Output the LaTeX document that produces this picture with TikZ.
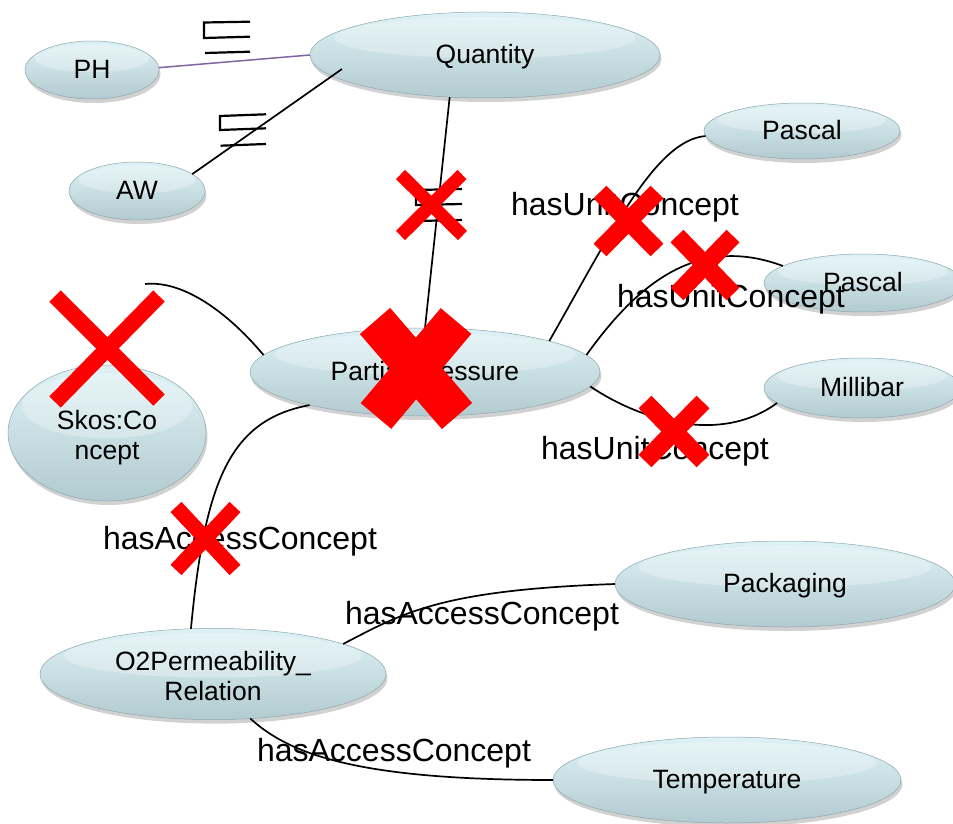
\documentclass[tikz,border=0pt]{standalone}
\usepackage{fontspec}
\setmainfont{Liberation Sans}
\usetikzlibrary{shapes.geometric,shadows,calc}

\definecolor{ellTop}{RGB}{222,242,246}
\definecolor{ellBot}{RGB}{178,203,208}
\definecolor{ellRim}{RGB}{140,168,175}
\definecolor{linkPurple}{RGB}{128,100,162}

% fixed-height struts so every concept text sits on the same baseline
\newcommand\ctop{\rule{0pt}{23pt}}
\newcommand\ctoptwo{\rule{0pt}{29pt}}
\newcommand\cbot{\rule[-6pt]{0pt}{6pt}}
\newcommand\ctext[1]{\ctop\cbot#1}

\begin{document}
\begin{tikzpicture}[x=1pt,y=-1pt,
  concept/.style 2 args={ellipse, draw=ellRim, line width=0.5pt,
    top color=ellTop, bottom color=ellBot,
    minimum width=#1, minimum height=#2, inner sep=0pt, outer sep=0pt,
    align=center, font=\fontsize{26.5}{29.5}\selectfont,
    drop shadow={shadow xshift=1.5pt, shadow yshift=-4pt, opacity=0.3, fill=black!60},
    path picture={\fill[white,opacity=0.28]
      let \p1=(path picture bounding box.north east),
          \p2=(path picture bounding box.south west) in
      ($(path picture bounding box.center)+(0pt,{0.2*(\y1-\y2)})$)
      ellipse [x radius={0.43*(\x1-\x2)}, y radius={0.24*(\y1-\y2)}];}},
  link/.style={draw=black, line width=1.7pt},
  sqsym/.style={draw=black, line width=2.2pt},
  lbl/.style={inner sep=0pt, yshift=-2.5pt, font=\fontsize{32}{36}\selectfont},
  cross/.style={draw=red, line width=#1}
]
\useasboundingbox (0,0) rectangle (953,824);

% concepts
\node[concept={350pt}{86pt}]  (Q)   at (485,55)  {\ctext{Quantity}};
\node[concept={134pt}{58pt}]  (PH)  at (92,70)   {\ctext{PH}};
\node[concept={136pt}{58pt}]  (AW)  at (137,191) {\ctext{AW}};
\node[concept={350pt}{88pt}]  (P)   at (425,372) {\ctext{Partial Pressure}};
\node[concept={196pt}{56pt}]  (Pa1) at (802,131) {\ctext{Pascal}};
\node[concept={198pt}{58pt}]  (Pa2) at (863,283) {\ctext{Pascal}};
\node[concept={196pt}{60pt}]  (Mb)  at (862,388) {\ctext{Millibar}};
\node[concept={198pt}{136pt}] (Sk)  at (107,433) {\ctoptwo Skos:Co\\\cbot ncept};
\node[concept={346pt}{88pt}]  (O2)  at (213,674) {\ctoptwo O2Permeability\_\\\cbot Relation};
\node[concept={340pt}{86pt}]  (Pk)  at (785,584) {\ctext{Packaging}};
\node[concept={348pt}{86pt}]  (T)   at (727,780) {\ctext{Temperature}};

\coordinate (skosTail) at (145,284);
\coordinate (qInner) at (342,69);

% connectors
\draw[link, draw=linkPurple, line width=1.5pt] (PH.2) -- (Q.west);
\draw[link] (AW.17) -- (qInner);
\draw[link] (Q.230) -- (P.north);
\draw[link] (P.14) .. controls (610,235) and (655,140) .. (Pa1.183);
\draw[link] (P.6) .. controls (640,280) and (700,235) .. (Pa2.168);
\draw[link] (P.-5) .. controls (640,420) and (720,445) .. (Mb.190);
\draw[link] (skosTail) .. controls (185,280) and (230,315) .. (P.174);
\draw[link] (P.196) .. controls (230,420) and (205,480) .. (O2.116);
\draw[link] (O2.13) .. controls (403,613) and (440,590) .. (Pk.west);
\draw[link] (O2.310) .. controls (290,755) and (360,780) .. (T.west);

% subsumption symbols
\draw[sqsym] (250,21.7) -- (204,22.5) -- (204,38) -- (250,36.7);
\draw[sqsym] (205,53) -- (250,51.7);
\draw[sqsym] (266,114.3) -- (220,116) -- (220,130) -- (266,128.3);
\draw[sqsym] (220.7,145.7) -- (266,144);
\draw[sqsym] (462,189) -- (416,190) -- (416,205) -- (462,204);
\draw[sqsym] (416,221) -- (462,220);

% relation labels
\node[lbl] (u1) at (625,205)   {hasUnitConcept};
\node[lbl] (u2) at (731,296.5) {hasUnitConcept};
\node[lbl] (u3) at (655,448.5) {hasUnitConcept};
\node[lbl] (a1) at (240,539)   {hasAccessConcept};
\node[lbl] (a2) at (482,613.5) {hasAccessConcept};
\node[lbl] (a3) at (394,750.5) {hasAccessConcept};

% crossed-out marks
\draw[cross=13pt] (400.5,174.5) -- (462.5,235.5) (462,174.5) -- (400.5,235.5);
\draw[cross=40pt] (375,321) -- (457,416) (456,321) -- (376,416);
\draw[cross=16pt] (55,296) -- (159,400) (159,296) -- (55,402);
\draw[cross=18pt] (600,192) -- (657,250) (657,192) -- (600,250);
\draw[cross=18pt] (677,236) -- (733,294) (733,236) -- (677,294);
\draw[cross=18pt] (645,402) -- (703,461) (703,402) -- (645,461);
\draw[cross=15pt] (176,507) -- (235,570) (235,507) -- (176,570);
\end{tikzpicture}
\end{document}
